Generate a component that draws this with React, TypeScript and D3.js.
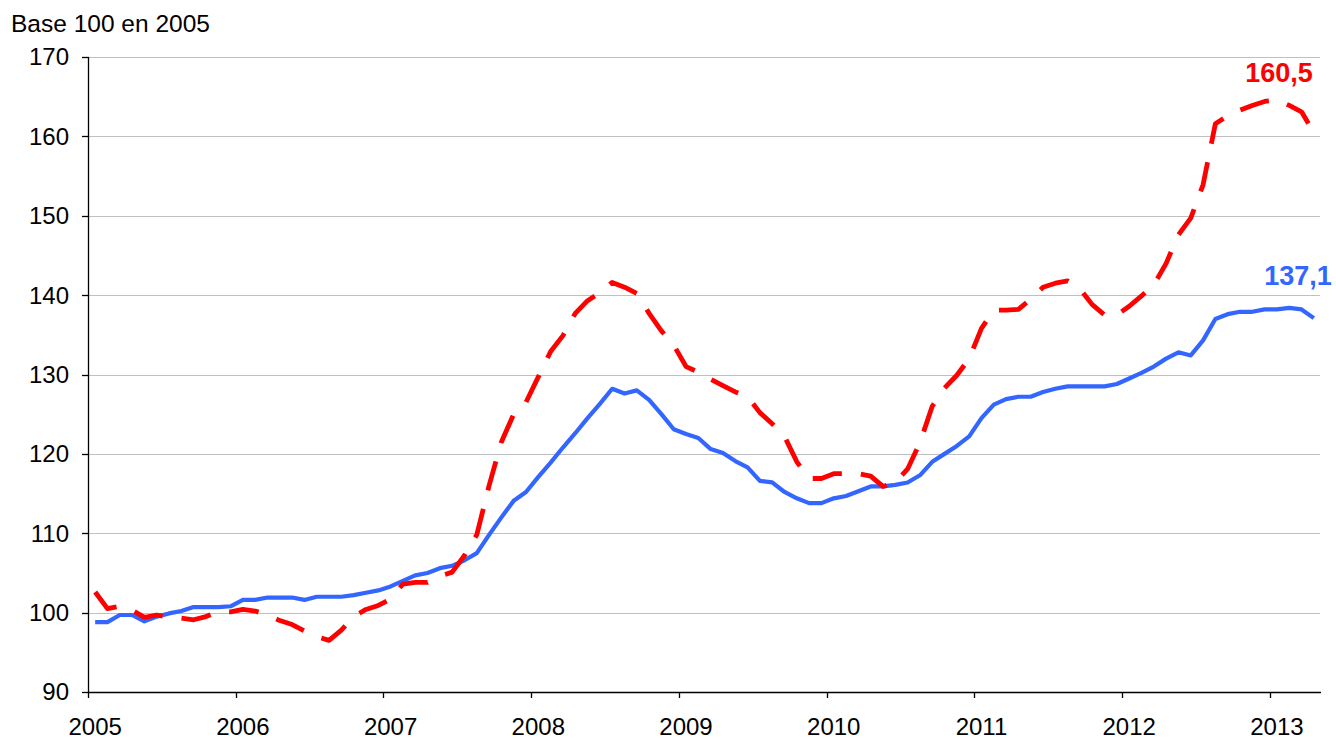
import React from "react";
import * as d3 from "d3";

// Monthly data, Jan 2005 .. Apr 2013 (100 months)
const startYear = 2005;
const monthCount = 100;

const seriesBlue: number[] = [
  98.8, 98.8, 99.7, 99.7, 98.9, 99.5, 99.9, 100.2, 100.7, 100.7, 100.7, 100.8,
  101.6, 101.6, 101.9, 101.9, 101.9, 101.6, 102.0, 102.0, 102.0, 102.2, 102.5, 102.8,
  103.3, 104.0, 104.7, 105.0, 105.6, 105.9, 106.6, 107.5, 109.8, 112.0, 114.1, 115.2,
  117.1, 118.9, 120.8, 122.6, 124.5, 126.3, 128.2, 127.6, 128.0, 126.8, 125.0, 123.1,
  122.5, 122.0, 120.6, 120.1, 119.1, 118.3, 116.6, 116.4, 115.2, 114.4, 113.8, 113.8,
  114.4, 114.7, 115.3, 115.9, 115.9, 116.1, 116.4, 117.3, 119.0, 120.0, 121.0, 122.2,
  124.5, 126.2, 126.9, 127.2, 127.2, 127.8, 128.2, 128.5, 128.5, 128.5, 128.5, 128.8,
  129.5, 130.2, 131.0, 132.0, 132.8, 132.4, 134.3, 137.0, 137.6, 137.9, 137.9, 138.2,
  138.2, 138.4, 138.2, 137.1,
];

const seriesRed: number[] = [
  102.6, 100.5, 100.8, 100.3, 99.4, 99.7, 99.4, 99.3, 99.1, 99.5, 100.1, 100.1,
  100.4, 100.2, 99.7, 99.0, 98.5, 97.7, 97.0, 96.5, 97.8, 99.5, 100.4, 100.9,
  101.7, 103.6, 103.8, 103.8, 104.6, 105.1, 107.2, 109.8, 116.0, 121.5, 125.0, 126.5,
  129.7, 132.9, 134.9, 137.7, 139.3, 140.3, 141.6, 141.0, 140.2, 137.7, 135.5, 133.7,
  131.0, 130.3, 129.4, 128.6, 127.8, 127.2, 125.2, 123.8, 122.2, 119.0, 116.9, 116.9,
  117.5, 117.5, 117.5, 117.2, 115.9, 116.4, 118.1, 121.4, 126.0, 128.3, 129.9, 132.0,
  135.8, 138.1, 138.1, 138.2, 139.5, 141.0, 141.5, 141.8, 140.8, 138.8, 137.5, 137.5,
  138.6, 139.9, 141.3, 144.0, 147.6, 149.7, 153.9, 161.6, 162.6, 163.3, 163.9, 164.4,
  164.6, 163.9, 163.1, 160.5,
];

const yTicks: number[] = [90, 100, 110, 120, 130, 140, 150, 160, 170];
const yearTicks: number[] = [2005, 2006, 2007, 2008, 2009, 2010, 2011, 2012, 2013];
const unitLabel = "Base 100 en 2005";

const blueColor = "#3366FF";
const redColor = "#FF0000";
const font = "'Liberation Sans', Arial, sans-serif";

export default function App() {
  const W = 1336;
  const H = 739;
  const left = 89;
  const right = 1320;
  const top = 57;
  const bottom = 692;

  const x = d3.scaleLinear().domain([0, monthCount]).range([left, right]);
  const y = d3.scaleLinear().domain([90, 170]).range([bottom, top]);

  const line = d3
    .line<number>()
    .x((_, i) => x(i + 0.5))
    .y((d) => y(d));

  const lastI = monthCount - 1;
  const fmt = (v: number) => v.toFixed(1).replace(".", ",");

  return (
    <svg
      width={W}
      height={H}
      style={{ position: "absolute", left: 0, top: 0, background: "#fff" }}
      fontFamily={font}
    >
      <rect x={0} y={0} width={W} height={H} fill="#fff" />
      {/* gridlines */}
      {yTicks.slice(1).map((t) => (
        <line
          key={"g" + t}
          x1={left}
          x2={right}
          y1={Math.round(y(t)) + 0.5}
          y2={Math.round(y(t)) + 0.5}
          stroke="#C0C0C0"
          strokeWidth={1}
        />
      ))}
      {/* y axis */}
      <line x1={left - 0.5} x2={left - 0.5} y1={top} y2={bottom} stroke="#000" strokeWidth={1.3} />
      {yTicks.map((t) => (
        <g key={"y" + t}>
          <line
            x1={left - 7}
            x2={left}
            y1={Math.round(y(t)) + 0.5}
            y2={Math.round(y(t)) + 0.5}
            stroke="#000"
            strokeWidth={1.3}
          />
          <text
            x={left - 20}
            y={y(t)}
            dy="0.35em"
            textAnchor="end"
            fontSize={24}
            fill="#000"
          >
            {t}
          </text>
        </g>
      ))}
      {/* x axis */}
      <line x1={left - 1} x2={right + 1} y1={bottom + 0.5} y2={bottom + 0.5} stroke="#000" strokeWidth={1.3} />
      {yearTicks.map((yr) => {
        const m = (yr - startYear) * 12;
        return (
          <g key={"x" + yr}>
            <line
              x1={Math.round(x(m)) - 0.5}
              x2={Math.round(x(m)) - 0.5}
              y1={bottom}
              y2={bottom + 6}
              stroke="#000"
              strokeWidth={1.3}
            />
            <text x={x(m + 0.5)} y={735} textAnchor="middle" fontSize={24} fill="#000">
              {yr}
            </text>
          </g>
        );
      })}
      {/* unit label */}
      <text x={11} y={32} fontSize={24.5} fill="#000">
        {unitLabel}
      </text>
      {/* series */}
      <path
        d={line(seriesBlue) || ""}
        fill="none"
        stroke={blueColor}
        strokeWidth={4.2}
        strokeLinejoin="round"
      />
      <path
        d={line(seriesRed) || ""}
        fill="none"
        stroke={redColor}
        strokeWidth={4.8}
        strokeDasharray="30 19"
        strokeLinejoin="round"
      />
      {/* end labels */}
      <text
        x={x(lastI + 0.5) - 1}
        y={y(seriesRed[lastI]) - 50}
        textAnchor="end"
        fontSize={27}
        fontWeight="bold"
        fill={redColor}
      >
        {fmt(seriesRed[lastI])}
      </text>
      <text
        x={x(lastI + 0.5) + 18}
        y={y(seriesBlue[lastI]) - 33}
        textAnchor="end"
        fontSize={27}
        fontWeight="bold"
        fill={blueColor}
      >
        {fmt(seriesBlue[lastI])}
      </text>
    </svg>
  );
}
